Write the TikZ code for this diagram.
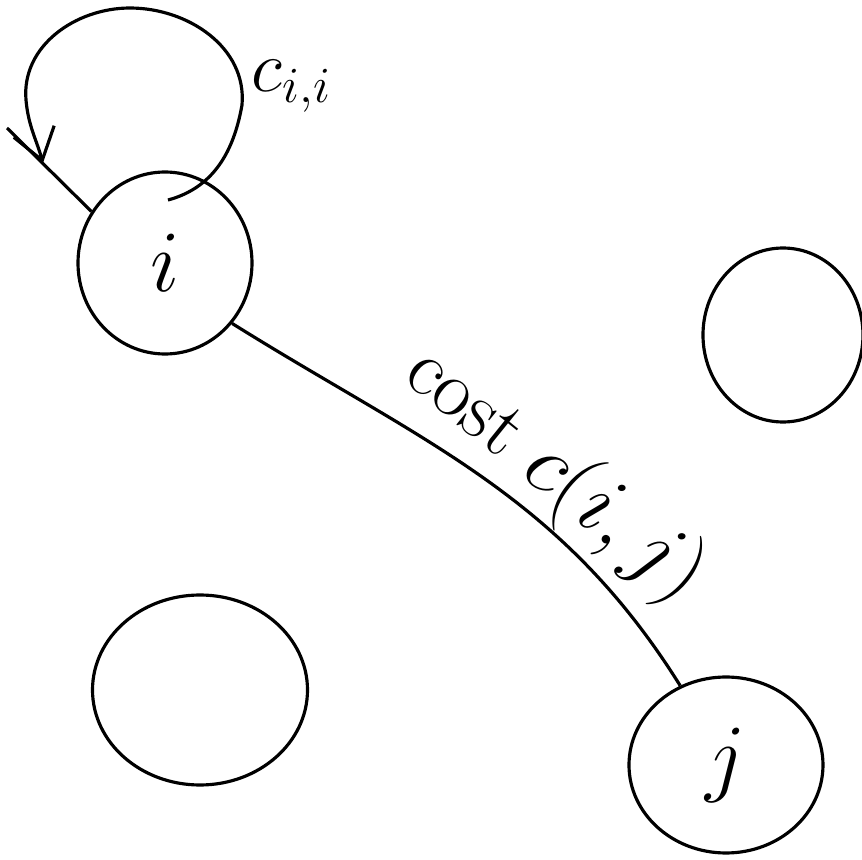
\documentclass[tikz,border=0pt]{standalone}
\usepackage{amsmath}
\usepackage{tikz}
\usetikzlibrary{shapes.geometric, arrows.meta, positioning}
\tikzset{
  vertex/.style={ellipse, draw=black, line width=0.9pt, inner sep=0pt,
    font=\fontsize{28}{32}\selectfont},
  arrow/.style={-{Straight Barb[length=3mm, width=4.2mm]}, line width=0.9pt},
  line/.style={line width=0.9pt}
}

\begin{document}
\begin{tikzpicture}
  \useasboundingbox (0,0) rectangle (8.62,-8.60);

  % Vertices
  \node[vertex, minimum width=1.74cm, minimum height=1.82cm] (i) at (1.65,-2.63) {$i$};
  \node[vertex, minimum width=1.60cm, minimum height=1.74cm] (k) at (7.83,-3.35) {};
  \node[vertex, minimum width=2.15cm, minimum height=1.90cm] (l) at (2.00,-6.90) {};
  \node[vertex, minimum width=1.94cm, minimum height=1.76cm] (j) at (7.26,-7.65) {$j$};

  % Self loop on i
  \coordinate (lpend) at (1.68,-2.00);
  \coordinate (ah) at (0.43,-1.63);
  \coordinate (tail) at (0.07,-1.28);
  \draw[arrow] (lpend) to[out=15, in=-100] (2.42,-1.05) to[out=85, in=0] (1.30,-0.08)
    to[out=180, in=95] (0.26,-1.00) to[out=-85, in=106] (ah);
  \draw[line] (tail) -- (i.145);
  \node[font=\fontsize{22}{26}\selectfont] (cii) at (2.92,-0.86) {$c_{i,i}$};

  % Edge i -- j
  \draw[line] (i.-42) to[out=-32, in=122]
    node[pos=0.6, above, sloped, inner sep=0pt, font=\fontsize{23}{28}\selectfont] (cij) {cost $c(i,j)$} (j.120);
\end{tikzpicture}
\end{document}
